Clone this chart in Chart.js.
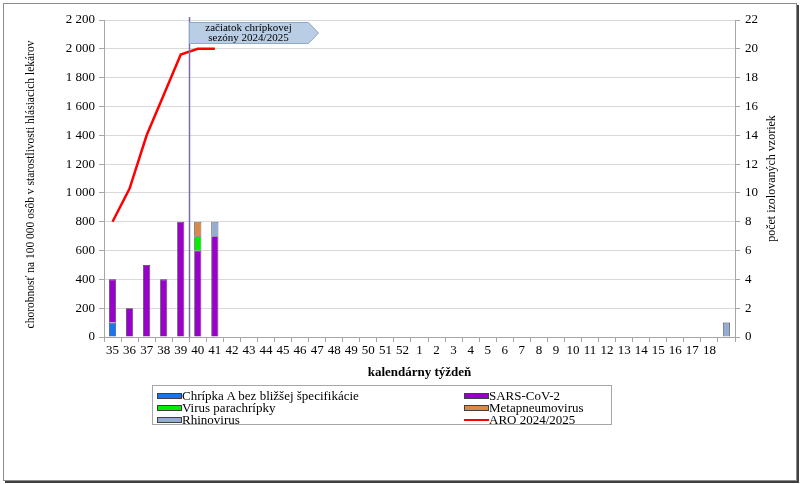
<!DOCTYPE html>
<html><head><meta charset="utf-8">
<script src="https://cdn.jsdelivr.net/npm/chart.js@4/dist/chart.umd.min.js"></script>
<style>
html,body{margin:0;padding:0;background:#fff;}
#wrap{position:relative;width:800px;height:484px;overflow:hidden;}
#c{position:absolute;left:0;top:0;}
#legend{position:absolute;left:152px;top:385px;width:460px;height:40px;border:1px solid #a6a6a6;box-sizing:border-box;font-family:'Liberation Serif',serif;font-size:13px;color:#000;background:#fff;}
.item{position:absolute;height:13px;line-height:13px;white-space:nowrap;}
.sw{display:inline-block;width:25px;height:6px;border:1px solid #404040;box-sizing:border-box;vertical-align:1px;}
.ln{display:inline-block;width:25px;height:2px;background:#ff0000;vertical-align:3px;}
</style></head>
<body>
<div id="wrap">
<canvas id="c" width="800" height="484"></canvas>
<div id="legend"></div>
</div>
<script>
// ---- data ----
const weeks = ['35','36','37','38','39','40','41','42','43','44','45','46','47','48','49','50','51','52',
               '1','2','3','4','5','6','7','8','9','10','11','12','13','14','15','16','17','18',''];
const aro2024 = [800,1030,1400,1680,1960,2000,2000,null,null,null,null,null,null,null,null,null,null,null,
                 null,null,null,null,null,null,null,null,null,null,null,null,null,null,null,null,null,null,null];
const chripkaA = [1,null,null,null,null,null,null,null,null,null,null,null,null,null,null,null,null,null,
                  null,null,null,null,null,null,null,null,null,null,null,null,null,null,null,null,null,null,null];
const sarsCov2 = [3,2,5,4,8,6,7,null,null,null,null,null,null,null,null,null,null,null,
                  null,null,null,null,null,null,null,null,null,null,null,null,null,null,null,null,null,null,null];
const parachripka = [null,null,null,null,null,1,null,null,null,null,null,null,null,null,null,null,null,null,
                     null,null,null,null,null,null,null,null,null,null,null,null,null,null,null,null,null,null,null];
const metapneumo = [null,null,null,null,null,1,null,null,null,null,null,null,null,null,null,null,null,null,
                    null,null,null,null,null,null,null,null,null,null,null,null,null,null,null,null,null,null,null];
const rhinovirus = [null,null,null,null,null,null,1,null,null,null,null,null,null,null,null,null,null,null,
                    null,null,null,null,null,null,null,null,null,null,null,null,null,null,null,null,null,null,1];
const leftTicks = {min:0, max:2200, step:200};
const rightTicks = {min:0, max:22, step:2};
const seasonStartIndex = 4.5; // between week 39 and 40
const annotationLines = ['začiatok chrípkovej', 'sezóny 2024/2025'];
const leftTitle = 'chorobnosť na 100 000 osôb v starostlivosti hlásiacich lekárov';
const rightTitle = 'počet izolovaných vzoriek';

const FONT = "'Liberation Serif', 'Times New Roman', serif";
const colors = {
  chripkaA:'#1874f0', sars:'#9900cc', para:'#00ee00', meta:'#d98a48', rhino:'#95acd3', aro:'#ff0000'
};

const legendItems = [
  {label:'Chrípka A bez bližšej špecifikácie', color:colors.chripkaA, col:0, row:0},
  {label:'SARS-CoV-2', color:colors.sars, col:1, row:0},
  {label:'Virus parachrípky', color:colors.para, col:0, row:1},
  {label:'Metapneumovirus', color:colors.meta, col:1, row:1},
  {label:'Rhinovirus', color:colors.rhino, col:0, row:2},
  {label:'ARO 2024/2025', color:colors.aro, col:1, row:2, line:true}
];
const lg = document.getElementById('legend');
legendItems.forEach(it => {
  const d = document.createElement('div');
  d.className = 'item';
  d.style.left = (it.col ? 311 : 4) + 'px';
  d.style.top = (3 + it.row * 12) + 'px';
  const s = document.createElement('span');
  s.className = it.line ? 'ln' : 'sw';
  s.style.background = it.color;
  d.appendChild(s);
  d.appendChild(document.createTextNode(it.label));
  lg.appendChild(d);
});

const fmt = v => String(v).replace(/\B(?=(\d{3})+(?!\d))/g, ' ');

const decor = {
  id:'decor',
  beforeDraw(chart){
    const ctx = chart.ctx;
    ctx.save();
    ctx.fillStyle = '#fff';
    ctx.fillRect(0,0,800,484);
    ctx.strokeStyle = '#8c8c8c';
    ctx.lineWidth = 1;
    ctx.strokeRect(3.5,3.5,793,477);
    ctx.strokeStyle = '#404040';
    ctx.lineWidth = 2;
    ctx.beginPath();
    ctx.moveTo(798,5); ctx.lineTo(798,482); ctx.lineTo(5,482);
    ctx.stroke();
    ctx.restore();
  },
  afterDraw(chart){
    const ctx = chart.ctx, xs = chart.scales.x, a = chart.chartArea;
    ctx.save();
    // season start line
    const lx = Math.round(xs.getPixelForValue(seasonStartIndex)) + 0.5;
    ctx.strokeStyle = '#7a6ca8';
    ctx.lineWidth = 1.5;
    ctx.beginPath();
    ctx.moveTo(lx, a.top - 3);
    ctx.lineTo(lx, a.bottom);
    ctx.stroke();
    // annotation arrow box
    const top = a.top + 2.5, bot = a.top + 23.5, mid = (top + bot) / 2;
    ctx.beginPath();
    ctx.moveTo(lx, top);
    ctx.lineTo(lx + 119, top);
    ctx.lineTo(lx + 129, mid);
    ctx.lineTo(lx + 119, bot);
    ctx.lineTo(lx, bot);
    ctx.closePath();
    ctx.fillStyle = '#b9cde5';
    ctx.fill();
    ctx.strokeStyle = '#8eaacb';
    ctx.lineWidth = 1;
    ctx.stroke();
    ctx.fillStyle = '#000';
    ctx.font = "11px " + FONT;
    ctx.textAlign = 'center';
    ctx.textBaseline = 'middle';
    ctx.fillText(annotationLines[0], lx + 59, top + 6);
    ctx.fillText(annotationLines[1], lx + 59, top + 16);
    // left axis title (reads bottom to top)
    ctx.save();
    ctx.translate(31, (a.top + a.bottom) / 2 + 6);
    ctx.rotate(-Math.PI / 2);
    ctx.font = "11.5px " + FONT;
    ctx.fillText(leftTitle, 0, 0);
    ctx.restore();
    // right axis title (reads bottom to top)
    ctx.save();
    ctx.translate(772, (a.top + a.bottom) / 2);
    ctx.rotate(-Math.PI / 2);
    ctx.font = "12px " + FONT;
    ctx.fillText(rightTitle, 0, 0);
    ctx.restore();
    ctx.restore();
  }
};

const barBase = {type:'bar', yAxisID:'y2', stack:'s', borderColor:'#404040', borderWidth:0.8,
                 categoryPercentage:1.0, barPercentage:0.42};

new Chart(document.getElementById('c'), {
  data:{
    labels: weeks,
    datasets:[
      {type:'line', label:'ARO 2024/2025', data:aro2024, yAxisID:'y', borderColor:colors.aro,
       borderWidth:2.5, pointRadius:0, tension:0, fill:false, spanGaps:false},
      Object.assign({label:'Chrípka A bez bližšej špecifikácie', data:chripkaA, backgroundColor:colors.chripkaA}, barBase),
      Object.assign({label:'SARS-CoV-2', data:sarsCov2, backgroundColor:colors.sars}, barBase),
      Object.assign({label:'Virus parachrípky', data:parachripka, backgroundColor:colors.para}, barBase),
      Object.assign({label:'Metapneumovirus', data:metapneumo, backgroundColor:colors.meta}, barBase),
      Object.assign({label:'Rhinovirus', data:rhinovirus, backgroundColor:colors.rhino}, barBase)
    ]
  },
  options:{
    responsive:false,
    animation:false,
    events:[],
    layout:{padding:{left:5, right:10, top:20, bottom:102}},
    plugins:{legend:{display:false}, tooltip:{enabled:false}},
    scales:{
      x:{
        stacked:true,
        grid:{display:true, drawOnChartArea:false, drawTicks:true, tickLength:5, color:'#a6a6a6', offset:true},
        border:{color:'#a6a6a6'},
        ticks:{font:{family:FONT, size:13}, color:'#000', maxRotation:0, autoSkip:false, padding:1},
        title:{display:true, text:'kalendárny týždeň', color:'#000', font:{family:FONT, size:13, weight:'bold'}, padding:{top:0, bottom:2}},
        afterFit:s => { s.height = 45; }
      },
      y:{
        position:'left', min:leftTicks.min, max:leftTicks.max,
        ticks:{stepSize:leftTicks.step, callback:v => fmt(v), font:{family:FONT, size:13}, color:'#000', padding:4},
        grid:{color:'#d9d9d9', tickColor:'#a6a6a6', tickLength:5},
        border:{color:'#a6a6a6'},
        afterFit:s => { s.width = 99; }
      },
      y2:{
        position:'right', min:rightTicks.min, max:rightTicks.max, stacked:true,
        ticks:{stepSize:rightTicks.step, font:{family:FONT, size:13}, color:'#000', padding:5},
        grid:{drawOnChartArea:false, color:'#a6a6a6', tickLength:5},
        border:{color:'#a6a6a6'},
        afterFit:s => { s.width = 55; }
      }
    }
  },
  plugins:[decor]
});
</script>
</body></html>
